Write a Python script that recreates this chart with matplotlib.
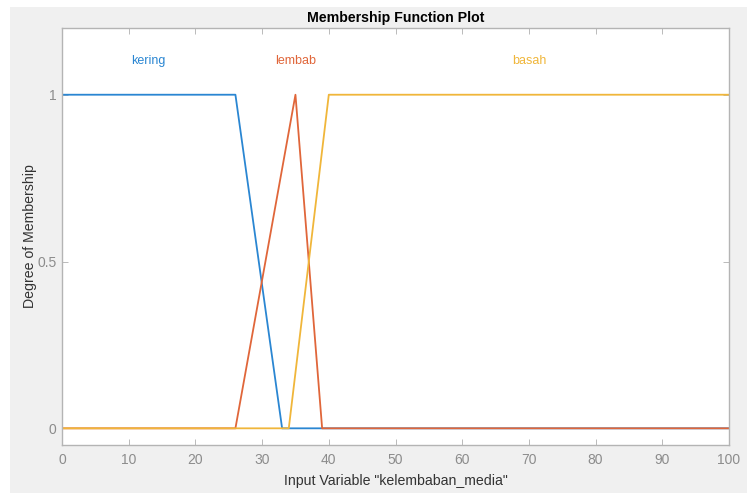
import matplotlib.pyplot as plt
import matplotlib.patches as patches

plt.rcParams['font.family'] = ['Liberation Sans', 'DejaVu Sans']

# membership function breakpoints
kering_x = [0, 26, 33, 100]
kering_y = [1, 1, 0, 0]
lembab_x = [0, 26, 35, 39, 100]
lembab_y = [0, 0, 1, 0, 0]
basah_x = [0, 34, 40, 100]
basah_y = [0, 0, 1, 1]
names = ['kering', 'lembab', 'basah']
label_x = [13, 35, 70]
colors = ['#2a86d2', '#e0663a', '#f0b63a']

fig = plt.figure(figsize=(7.47, 4.93), dpi=100)
fig.patch.set_facecolor('white')
# gray panel (white strip on the left and top)
fig.patches.append(patches.Rectangle((10 / 747, -0.01), 1, 1.01 - 7 / 493,
                                     transform=fig.transFigure, facecolor='#f0f0f0',
                                     edgecolor='none', zorder=-10))

ax = fig.add_axes([62 / 747, 48 / 493, 667 / 747, 417 / 493])
ax.set_facecolor('white')

series = [(kering_x, kering_y), (lembab_x, lembab_y), (basah_x, basah_y)]
for (xs, ys), c in zip(series, colors):
    ax.plot(xs, ys, color=c, lw=1.3)
for name, lx, c in zip(names, label_x, colors):
    ax.text(lx, 1.1, name, color=c, ha='center', va='center', fontsize=9)

ax.set_xlim(0, 100)
ax.set_ylim(-0.05, 1.2)
ax.set_xticks(range(0, 101, 10))
ax.set_yticks([0, 0.5, 1])
ax.set_yticklabels(['0', '0.5', '1'])
ax.tick_params(direction='in', top=True, right=True, length=4, width=0.6,
               colors='#b0b0b0', labelcolor='#8c8c8c', labelsize=10, pad=4)
ax.tick_params(axis='x', pad=6)
for s in ax.spines.values():
    s.set_color('#b4b4b4')
    s.set_linewidth(1)

ax.set_title('Membership Function Plot', fontsize=10.2, fontweight='bold', pad=4)
ax.set_xlabel('Input Variable "kelembaban_media"', fontsize=10.2, color='#333333', labelpad=5)
ax.set_ylabel('Degree of Membership', fontsize=10.2, color='#333333', labelpad=0)

fig.savefig('out.png', dpi=100)
